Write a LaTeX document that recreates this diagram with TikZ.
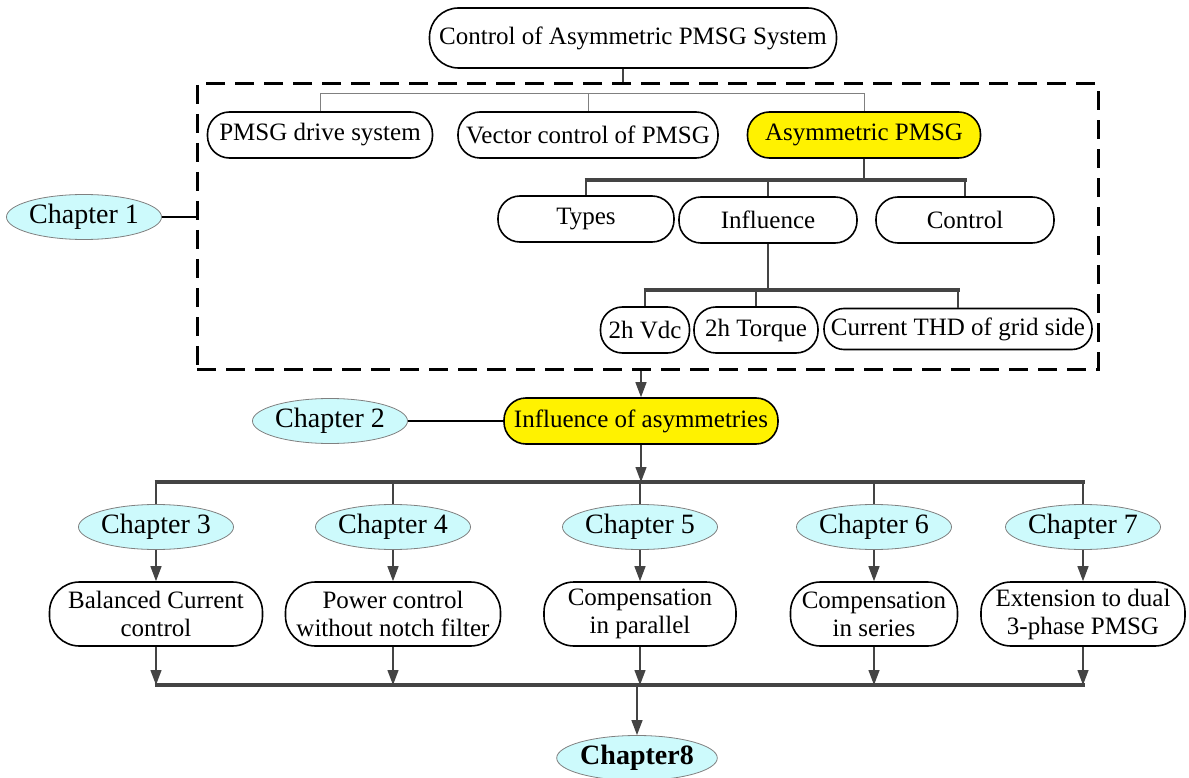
\documentclass[tikz,border=0pt]{standalone}
\usepackage{fontspec}
\setmainfont{Liberation Serif}
\usetikzlibrary{shapes.geometric,arrows.meta}

\definecolor{chapcyan}{RGB}{205,250,252}
\definecolor{linegray}{RGB}{68,68,68}

\tikzset{
  pill/.style={rectangle, rounded corners=22pt, draw=black, line width=1.6pt, fill=white,
    inner sep=2pt, minimum height=46pt, align=center, font=\fontsize{25}{28}\selectfont},
  hpill/.style={pill, fill=yellow},
  tallpill/.style={pill, rounded corners=30pt, minimum height=64pt},
  chap/.style={ellipse, draw=gray, line width=0.8pt, fill=chapcyan, inner sep=0pt,
    minimum width=148pt, minimum height=45pt, font=\fontsize{28}{30}\selectfont},
  link/.style={draw=linegray, line width=1.3pt},
  soft/.style={draw=gray, line width=1pt},
  bar/.style={draw=linegray, line width=3.5pt},
  tie/.style={draw=black, line width=2.5pt},
  arr/.style={draw=linegray, fill=linegray, line width=1.3pt, -{Triangle[length=15pt,width=11pt]}},
}

\begin{document}
\begin{tikzpicture}[x=1pt, y=-1pt]
    \useasboundingbox (0,0) rectangle (1189,778);

    % Top of the tree
    \node[pill, rounded corners=29pt, minimum width=407pt, minimum height=60pt] (top) at (633,38) {Control of Asymmetric PMSG System};

    % Dashed frame of chapter 1
    \node[draw=black, line width=3pt, dash pattern=on 19pt off 10pt, inner sep=0pt,
          minimum width=901pt, minimum height=285pt] (frame) at (647.5,226.5) {};
    \draw[link] ([xshift=-10pt]top.south) -- ([xshift=-10pt]top.south |- frame.north);

    % First level inside the frame
    \node[pill, minimum width=225pt] (drive) at (320,135) {PMSG drive system};
    \node[pill, minimum width=260pt] (vector) at (588,135) {Vector control of PMSG};
    \node[hpill, minimum width=233pt] (asym) at (864,135) {Asymmetric PMSG};
    \coordinate (rowA) at (588,94);
    \draw[soft] (drive.north) -- (drive |- rowA) -- (asym |- rowA) -- (asym.north);
    \draw[soft] (vector |- rowA) -- (vector.north);

    % Second level
    \node[pill, minimum width=176pt] (types) at (586,219) {Types};
    \node[pill, minimum width=178pt] (infl) at (768,220) {Influence};
    \node[pill, minimum width=178pt] (ctrl) at (965,220) {Control};
    \coordinate (rowB) at (864,180);
    \draw[link] (asym.south) -- (asym |- rowB);
    \draw[bar] ([xshift=-1.5pt]types |- rowB) -- ([xshift=1.5pt]ctrl |- rowB);
    \foreach \k in {types, infl, ctrl} {
        \draw[link] (\k |- rowB) -- (\k.north);
    }

    % Third level
    \node[pill, minimum width=89pt] (vdc) at (645,330) {2h Vdc};
    \node[pill, minimum width=124pt] (torque) at (756,330) {2h Torque};
    \node[pill, rounded corners=20pt, minimum width=268pt, minimum height=41pt, inner sep=0pt] (thd) at (958,329) {Current THD of grid side};
    \coordinate (rowC) at (768,290);
    \draw[bar, line width=2.5pt] (infl.south) -- (infl |- rowC);
    \draw[bar] ([xshift=-1.5pt]vdc |- rowC) -- ([xshift=1.5pt]thd |- rowC);
    \foreach \k in {vdc, torque, thd} {
        \draw[link] (\k |- rowC) -- (\k.north);
    }

    % Chapter 1 label
    \node[chap] (c1) at (84,217) {Chapter 1};
    \draw[tie] (c1.east) -- (c1 -| frame.west);

    % Chapter 2
    \node[hpill, minimum width=274pt] (effect) at (641,421) {Influence of asymmetries};
    \node[chap] (c2) at (330,421) {Chapter 2};
    \draw[tie] (c2.east) -- (c2.east -| effect.west);
    \draw[arr] (effect.north |- frame.south) -- (effect.north);

    % Chapters 3 to 7
    \coordinate (split) at (641,482);
    \coordinate (merge) at (641,685);
    \foreach \n/\x/\w/\txt in {
        3/156/213/{Balanced Current\\control},
        4/393/215/{Power control\\without notch filter},
        5/640/192/{Compensation\\in parallel},
        6/874/167/{Compensation\\in series},
        7/1083/204/{Extension to dual\\3-phase PMSG}} {
        \node[chap] (c\n) at (\x,527) {Chapter \n};
        \node[tallpill, minimum width=\w pt] (b\n) at (\x,614) {\txt};
        \draw[link] (c\n |- split) -- (c\n.north);
        \draw[arr] (c\n.south) -- (b\n.north);
        \draw[arr] (b\n.south) -- (b\n |- merge);
    }
    \draw[arr] (effect.south) -- (effect |- split);
    \draw[bar] ([xshift=-1.5pt]c3 |- split) -- ([xshift=1.5pt]c7 |- split);
    \draw[bar] ([xshift=-1.5pt]c3 |- merge) -- ([xshift=1.5pt]c7 |- merge);

    % Chapter 8
    \node[chap, font=\fontsize{28}{30}\bfseries] (c8) at (637,758) {Chapter8};
    \draw[arr] (c8 |- merge) -- (c8.north);
\end{tikzpicture}
\end{document}
